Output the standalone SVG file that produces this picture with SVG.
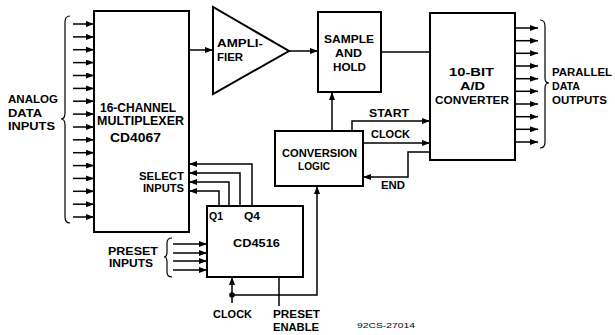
<svg xmlns="http://www.w3.org/2000/svg" width="615" height="335" viewBox="0 0 615 335">
<defs>
<marker id="ah" viewBox="0 0 8 6" refX="8" refY="3" markerWidth="8" markerHeight="6" markerUnits="userSpaceOnUse" orient="auto">
<path d="M0,0 L8,3 L0,6 Z" fill="#000"/>
</marker>
</defs>
<style>
.box{fill:#fff;stroke:#000;stroke-width:2}
.ln{fill:none;stroke:#000;stroke-width:1.5}
.ar{fill:none;stroke:#000;stroke-width:1.5;marker-end:url(#ah)}
.br{fill:none;stroke:#000;stroke-width:1.2}
text{font-family:"Liberation Sans",Arial,sans-serif;font-weight:bold;font-size:10.5px;fill:#000}
.sm{font-size:7px;font-weight:normal}
</style>
<rect width="615" height="335" fill="#fff"/>

<g id="connectors">
<!-- analog inputs -->
<path class="ar" d="M73,24H94"/>
<path class="ar" d="M73,36.9H94"/>
<path class="ar" d="M73,49.7H94"/>
<path class="ar" d="M73,62.6H94"/>
<path class="ar" d="M73,75.5H94"/>
<path class="ar" d="M73,88.4H94"/>
<path class="ar" d="M73,101.2H94"/>
<path class="ar" d="M73,114.1H94"/>
<path class="ar" d="M73,127H94"/>
<path class="ar" d="M73,139.8H94"/>
<path class="ar" d="M73,152.7H94"/>
<path class="ar" d="M73,165.6H94"/>
<path class="ar" d="M73,178.4H94"/>
<path class="ar" d="M73,191.3H94"/>
<path class="ar" d="M73,204.2H94"/>
<path class="ar" d="M73,217H94"/>
<!-- mux to amp -->
<path class="ar" d="M189,50H213"/>
<!-- amp to S&H -->
<path class="ar" d="M289,51H318"/>
<!-- S&H to A/D -->
<path class="ln" d="M381,52H430"/>
<!-- conv logic to S&H -->
<path class="ar" d="M332,131V92"/>
<!-- START -->
<path class="ar" d="M352,131V121H430"/>
<!-- CLOCK -->
<path class="ar" d="M363,143H430"/>
<!-- END -->
<path class="ar" d="M430,152H408V177H363"/>
<!-- parallel outputs -->
<path class="ar" d="M515,28H538"/>
<path class="ar" d="M515,40.7H538"/>
<path class="ar" d="M515,53.3H538"/>
<path class="ar" d="M515,66H538"/>
<path class="ar" d="M515,78.7H538"/>
<path class="ar" d="M515,91.3H538"/>
<path class="ar" d="M515,104H538"/>
<path class="ar" d="M515,116.7H538"/>
<path class="ar" d="M515,129.3H538"/>
<path class="ar" d="M515,142H538"/>
<!-- select inputs -->
<path class="ar" d="M252,206V164H189"/>
<path class="ar" d="M240,206V173H189"/>
<path class="ar" d="M229,206V182H189"/>
<path class="ar" d="M219,206V191H189"/>
<!-- preset inputs -->
<path class="ar" d="M173,244H207"/>
<path class="ar" d="M173,253H207"/>
<path class="ar" d="M173,261H207"/>
<path class="ar" d="M173,270H207"/>
<!-- clock -->
<path class="ar" d="M232,303V277"/>
<path class="ar" d="M232,295H317V186"/>
<circle cx="232" cy="295" r="2.8" fill="#000"/>
<!-- preset enable -->
<path class="ln" d="M279,277V306"/>
<!-- braces -->
<path class="br" d="M70,16Q65,16 65,22V113Q65,119 61,119Q65,119 65,125V217Q65,223 70,223"/>
<path class="br" d="M540,20Q545,20 545,26V78Q545,83 549,83Q545,83 545,88V142Q545,148 540,148"/>
<path class="br" d="M172,238Q167,238 167,243V252Q167,257 164,257Q167,257 167,262V272Q167,277 172,277"/>
</g>

<g id="mux">
<rect class="box" x="94" y="11" width="95" height="221"/>
<text x="100" y="112" textLength="76" lengthAdjust="spacingAndGlyphs" style="font-size:12px">16-CHANNEL</text>
<text x="97" y="125" textLength="87" lengthAdjust="spacingAndGlyphs" style="font-size:12px">MULTIPLEXER</text>
<text x="110" y="142" textLength="51" lengthAdjust="spacingAndGlyphs" style="font-size:12px">CD4067</text>
<text x="139" y="180" textLength="45" lengthAdjust="spacingAndGlyphs">SELECT</text>
<text x="143" y="192" textLength="41" lengthAdjust="spacingAndGlyphs">INPUTS</text>
</g>

<g id="amplifier">
<path class="box" d="M213,7V94L289,51Z"/>
<text x="217" y="47" textLength="46" lengthAdjust="spacingAndGlyphs">AMPLI-</text>
<text x="217" y="61" textLength="26" lengthAdjust="spacingAndGlyphs">FIER</text>
</g>

<g id="samplehold">
<rect class="box" x="318" y="12" width="63" height="80"/>
<text x="324" y="43" textLength="50" lengthAdjust="spacingAndGlyphs">SAMPLE</text>
<text x="335" y="57" textLength="27" lengthAdjust="spacingAndGlyphs">AND</text>
<text x="333" y="71" textLength="33" lengthAdjust="spacingAndGlyphs">HOLD</text>
</g>

<g id="adc">
<rect class="box" x="430" y="13" width="85" height="147"/>
<text x="449" y="76" textLength="45" lengthAdjust="spacingAndGlyphs">10-BIT</text>
<text x="460" y="90" textLength="25" lengthAdjust="spacingAndGlyphs">A/D</text>
<text x="435" y="104" textLength="74" lengthAdjust="spacingAndGlyphs">CONVERTER</text>
</g>

<g id="convlogic">
<rect class="box" x="275" y="131" width="88" height="55"/>
<text x="282" y="157" textLength="75" lengthAdjust="spacingAndGlyphs">CONVERSION</text>
<text x="298" y="170" textLength="32" lengthAdjust="spacingAndGlyphs">LOGIC</text>
</g>

<g id="cd4516">
<rect class="box" x="207" y="206" width="96" height="71"/>
<text x="209" y="220" textLength="14" lengthAdjust="spacingAndGlyphs">Q1</text>
<text x="244" y="220" textLength="16" lengthAdjust="spacingAndGlyphs">Q4</text>
<text x="233" y="247" textLength="47" lengthAdjust="spacingAndGlyphs">CD4516</text>
</g>

<g id="labels">
<text x="8" y="103" textLength="50" lengthAdjust="spacingAndGlyphs">ANALOG</text>
<text x="8" y="117" textLength="34" lengthAdjust="spacingAndGlyphs">DATA</text>
<text x="8" y="130" textLength="47" lengthAdjust="spacingAndGlyphs">INPUTS</text>
<text x="552" y="76" textLength="60" lengthAdjust="spacingAndGlyphs">PARALLEL</text>
<text x="552" y="90" textLength="28" lengthAdjust="spacingAndGlyphs">DATA</text>
<text x="552" y="104" textLength="55" lengthAdjust="spacingAndGlyphs">OUTPUTS</text>
<text x="369" y="117" textLength="40" lengthAdjust="spacingAndGlyphs">START</text>
<text x="371" y="138" textLength="39" lengthAdjust="spacingAndGlyphs">CLOCK</text>
<text x="381" y="189" textLength="24" lengthAdjust="spacingAndGlyphs">END</text>
<text x="108" y="255" textLength="50" lengthAdjust="spacingAndGlyphs">PRESET</text>
<text x="109" y="267" textLength="44" lengthAdjust="spacingAndGlyphs">INPUTS</text>
<text x="213" y="318" textLength="39" lengthAdjust="spacingAndGlyphs">CLOCK</text>
<text x="273" y="318" textLength="47" lengthAdjust="spacingAndGlyphs">PRESET</text>
<text x="273" y="331" textLength="46" lengthAdjust="spacingAndGlyphs">ENABLE</text>
<text class="sm" x="357" y="328" textLength="58" lengthAdjust="spacingAndGlyphs">92CS-27014</text>
</g>
</svg>
